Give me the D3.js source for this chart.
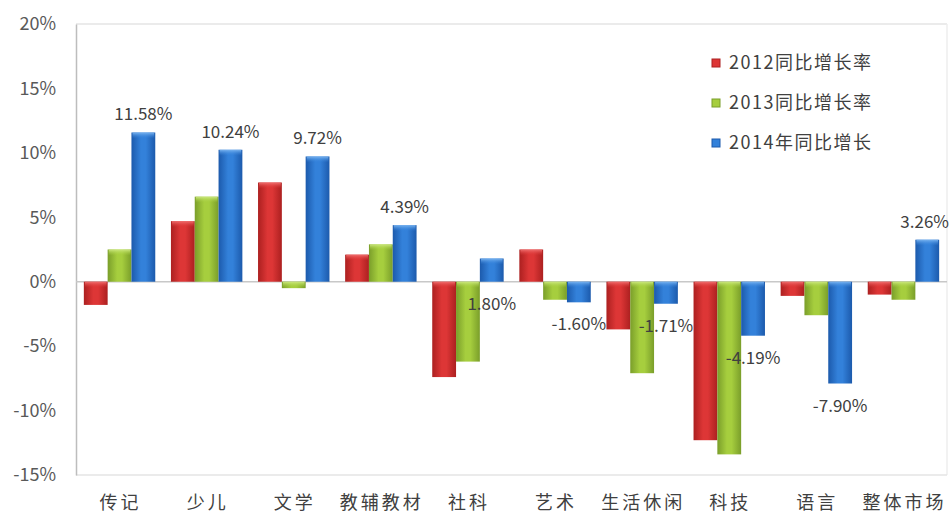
<!DOCTYPE html>
<html>
<head>
<meta charset="utf-8">
<script src="https://cdn.jsdelivr.net/npm/d3@7"></script>
<style>
  body { margin: 0; background: #fff; }
  text { font-family: "Noto Sans CJK SC", "Noto Sans", sans-serif; }
</style>
</head>
<body>
<svg id="chart" width="950" height="515"></svg>
<script>
//
// Data
//
var categories = ['传记', '少儿', '文学', '教辅教材', '社科', '艺术', '生活休闲', '科技', '语言', '整体市场']
var seriesNames = ['2012同比增长率', '2013同比增长率', '2014年同比增长']
var values2012 = [-1.8, 4.7, 7.7, 2.1, -7.4, 2.5, -3.7, -12.3, -1.1, -1.0]
var values2013 = [2.5, 6.6, -0.5, 2.9, -6.2, -1.4, -7.1, -13.4, -2.6, -1.4]
var values2014 = [11.58, 10.24, 9.72, 4.39, 1.80, -1.60, -1.71, -4.19, -7.90, 3.26]
var yTicks = [-15, -10, -5, 0, 5, 10, 15, 20]

// colors: [edge, center, cap]
var colors = [
  ['#ac2020', '#dd3636', '#f07070'],
  ['#7a9e2a', '#a6ce3e', '#cce880'],
  ['#1c5aac', '#3381da', '#7ab4f0']
]

var seriesData = [values2012, values2013, values2014]

//
// Layout
//
var svg = d3.select('#chart')
var plotLeft = 76, plotRight = 947, plotTop = 24, plotBottom = 475

var x = d3.scaleBand().domain(categories).range([plotLeft, plotRight])
  .paddingInner(0.18).paddingOuter(0.09)
var xs = d3.scaleBand().domain(d3.range(3)).range([0, x.bandwidth()])
var y = d3.scaleLinear().domain([-15, 20]).range([plotBottom, plotTop])

var defs = svg.append('defs')
colors.forEach(function (c, i) {
  var g = defs.append('linearGradient').attr('id', 'grad' + i)
    .attr('x1', 0).attr('x2', 1).attr('y1', 0).attr('y2', 0)
  g.append('stop').attr('offset', '0%').attr('stop-color', c[0])
  g.append('stop').attr('offset', '40%').attr('stop-color', c[1])
  g.append('stop').attr('offset', '60%').attr('stop-color', c[1])
  g.append('stop').attr('offset', '100%').attr('stop-color', c[0])
  var cap = defs.append('linearGradient').attr('id', 'cap' + i)
    .attr('x1', 0).attr('x2', 0).attr('y1', 0).attr('y2', 1)
  cap.append('stop').attr('offset', '0%').attr('stop-color', c[2])
  cap.append('stop').attr('offset', '100%').attr('stop-color', c[1]).attr('stop-opacity', 0)
})

// plot frame
svg.append('line').attr('x1', plotLeft).attr('x2', plotRight).attr('y1', plotTop).attr('y2', plotTop)
  .attr('stroke', '#e4e4e4').attr('stroke-width', 1.5)
svg.append('line').attr('x1', plotRight).attr('x2', plotRight).attr('y1', plotTop).attr('y2', plotBottom)
  .attr('stroke', '#eeeeee').attr('stroke-width', 1.5)
svg.append('line').attr('x1', plotLeft).attr('x2', plotRight).attr('y1', plotBottom).attr('y2', plotBottom)
  .attr('stroke', '#e4e4e4').attr('stroke-width', 1.5)

// y axis
var yAxis = svg.append('g').attr('transform', 'translate(' + plotLeft + ',0)')
  .call(d3.axisLeft(y).tickValues(yTicks).tickSize(0).tickPadding(20)
    .tickFormat(function (d) { return d + '%' }))
yAxis.select('.domain').attr('stroke', '#bdbdbd').attr('stroke-width', 1.5)
yAxis.selectAll('text').attr('font-size', 18).attr('fill', '#595959')
  .attr('font-family', '"Noto Sans CJK SC", sans-serif')

// zero line
svg.append('line').attr('x1', plotLeft).attr('x2', plotRight).attr('y1', y(0)).attr('y2', y(0))
  .attr('stroke', '#c8c8c8').attr('stroke-width', 1.5)

// bars
var groups = svg.append('g').selectAll('g').data(seriesData).join('g')
groups.each(function (vals, si) {
  var g = d3.select(this)
  vals.forEach(function (v, ci) {
    var bx = x(categories[ci]) + xs(si)
    var y0 = y(Math.max(0, v)), h = Math.abs(y(v) - y(0))
    g.append('rect').attr('x', bx).attr('y', y0)
      .attr('width', xs.bandwidth()).attr('height', h)
      .attr('fill', 'url(#grad' + si + ')')
    g.append('rect').attr('x', bx + 1).attr('y', y0)
      .attr('width', xs.bandwidth() - 2).attr('height', Math.min(6, h))
      .attr('fill', 'url(#cap' + si + ')')
  })
})

// data labels for 2014 (kept inside the picture)
svg.append('g').selectAll('text').data(values2014).join('text')
  .attr('y', function (d) { return d > 2 ? y(d) - 12 : y(Math.min(0, d)) + 28 })
  .attr('text-anchor', 'middle')
  .attr('font-size', 17).attr('fill', '#404040')
  .text(function (d) { return d.toFixed(2) + '%' })
  .attr('x', function (d, i) {
    var cx = x(categories[i]) + xs(2) + xs.bandwidth() / 2
    var w = this.getComputedTextLength()
    return Math.min(cx, 949 - w / 2)
  })

// category labels
svg.append('g').selectAll('text').data(categories).join('text')
  .attr('x', function (d) { return x(d) + x.bandwidth() / 2 + 1 })
  .attr('y', 509)
  .attr('text-anchor', 'middle')
  .attr('font-size', 18).attr('letter-spacing', 3).attr('fill', '#404040')
  .text(function (d) { return d })

// legend
var legend = svg.append('g').selectAll('g').data(seriesNames).join('g')
  .attr('transform', function (d, i) { return 'translate(712,' + (63 + i * 40) + ')' })
legend.append('rect').attr('x', 0).attr('y', -4).attr('width', 8).attr('height', 8)
  .attr('fill', function (d, i) { return colors[i][1] })
  .attr('stroke', function (d, i) { return colors[i][0] })
legend.append('text').attr('x', 17).attr('y', 6)
  .attr('font-size', 18).attr('letter-spacing', 1.5).attr('fill', '#404040')
  .text(function (d) { return d })
</script>
</body>
</html>
